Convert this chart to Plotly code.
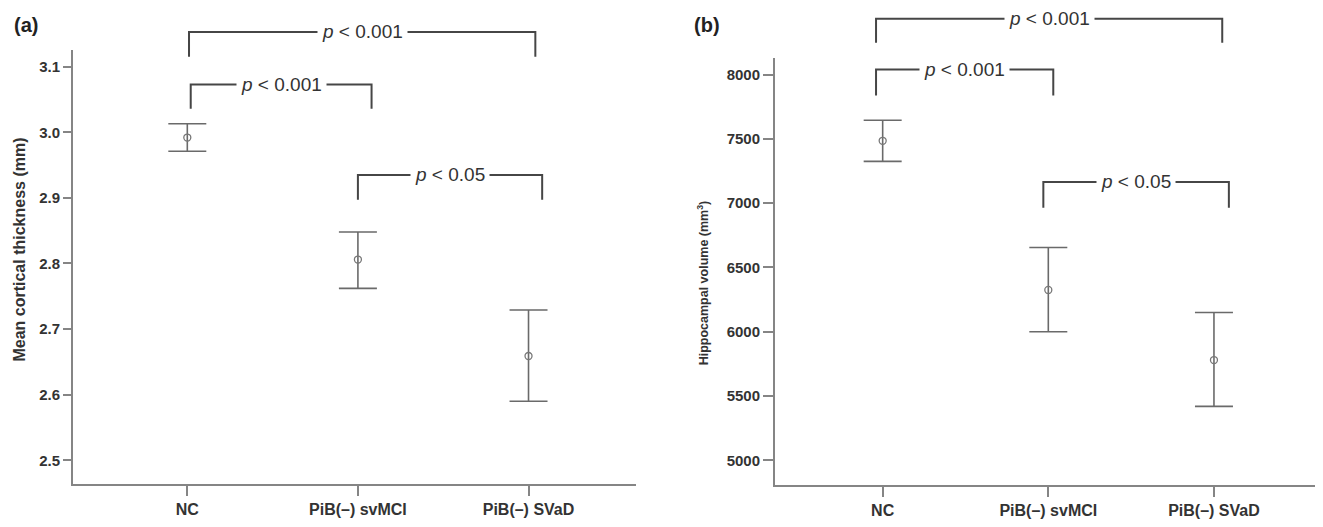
import plotly.graph_objects as go

# ---------------- data ----------------
categories = ["NC", "PiB(–) svMCI", "PiB(–) SVaD"]
cat_pos = [0, 1, 2]

thickness_mean = [2.992, 2.806, 2.659]
thickness_upper = [3.013, 2.848, 2.729]
thickness_lower = [2.971, 2.762, 2.590]
thickness_ticks = [2.5, 2.6, 2.7, 2.8, 2.9, 3.0, 3.1]

volume_mean = [7485, 6325, 5780]
volume_upper = [7645, 6655, 6150]
volume_lower = [7325, 6000, 5420]
volume_ticks = [5000, 5500, 6000, 6500, 7000, 7500, 8000]

# significance brackets: (x start, x end, bar level, leg end level, label)
thickness_brackets = [
    (0.01, 2.04, 3.153, 3.115, "0.001"),
    (0.02, 1.08, 3.073, 3.036, "0.001"),
    (1.00, 2.08, 2.935, 2.897, "0.05"),
]
volume_brackets = [
    (-0.04, 2.05, 8433, 8247, "0.001"),
    (-0.04, 1.03, 8039, 7838, "0.001"),
    (0.97, 2.09, 7165, 6964, "0.05"),
]

# ---------------- page geometry (body has an 8px margin) ----------------
OFF = 8
W, H = 1323 - 2 * OFF, 527 - 2 * OFF


def px(xp):
    return (xp - OFF) / W


def py(yp):
    return (527 - OFF - yp) / H


FONT = "Liberation Sans, Arial, Helvetica, sans-serif"
AXIS_COLOR = "#858585"
BAR_COLOR = "#6a6a6a"
BRACKET_COLOR = "#464646"
TEXT_COLOR = "#333333"

thick_range = [2.4636, 3.1258]
vol_range = [4807, 8131]

fig = go.Figure()


def add_panel(mean, upper, lower, xa, ya):
    fig.add_trace(go.Scatter(
        x=cat_pos, y=mean, mode="markers",
        xaxis=xa, yaxis=ya, showlegend=False,
        marker=dict(symbol="circle-open", size=7, color="#777777",
                    line=dict(width=1.3, color="#777777")),
        error_y=dict(type="data", symmetric=False,
                     array=[u - m for u, m in zip(upper, mean)],
                     arrayminus=[m - l for m, l in zip(mean, lower)],
                     color=BAR_COLOR, thickness=1.6, width=19),
    ))


add_panel(thickness_mean, thickness_upper, thickness_lower, "x", "y")
add_panel(volume_mean, volume_upper, volume_lower, "x2", "y2")


def add_brackets(brackets, rng, xref, ydomref):
    span = rng[1] - rng[0]
    for x0, x1, ybar, yleg, pval in brackets:
        yb = (ybar - rng[0]) / span
        yl = (yleg - rng[0]) / span
        fig.add_shape(type="path",
                      path=f"M {x0} {yl} L {x0} {yb} L {x1} {yb} L {x1} {yl}",
                      xref=xref, yref=ydomref,
                      line=dict(color=BRACKET_COLOR, width=2))
        fig.add_annotation(x=(x0 + x1) / 2, y=yb, xref=xref, yref=ydomref,
                           text=f"<i>p</i> &lt; {pval}", showarrow=False,
                           bgcolor="white", borderpad=4,
                           xanchor="center", yanchor="middle",
                           font=dict(family=FONT, size=19, color=TEXT_COLOR))


add_brackets(thickness_brackets, thick_range, "x", "y domain")
add_brackets(volume_brackets, vol_range, "x2", "y2 domain")

axis_common = dict(showline=True, linecolor=AXIS_COLOR, linewidth=2,
                   showgrid=False, zeroline=False, ticks="outside",
                   tickcolor=AXIS_COLOR, tickwidth=1.5)

fig.update_layout(
    width=W, height=H,
    margin=dict(l=0, r=0, t=0, b=0),
    paper_bgcolor="white", plot_bgcolor="white",
    font=dict(family=FONT, color=TEXT_COLOR),
    xaxis=dict(domain=[px(73), px(636)], range=[-0.67, 2.63],
               tickvals=cat_pos, ticktext=[f"<b>{c}</b>" for c in categories],
               ticklen=10, tickfont=dict(size=16, color=TEXT_COLOR),
               anchor="y", **axis_common),
    yaxis=dict(domain=[py(487), py(50)], range=thick_range,
               tickvals=thickness_ticks,
               ticktext=[f"<b>{v:.1f}</b>" for v in thickness_ticks],
               ticklen=8, tickfont=dict(size=15, color=TEXT_COLOR),
               anchor="x", **axis_common),
    xaxis2=dict(domain=[px(775), px(1315)], range=[-0.65, 2.61],
                tickvals=cat_pos, ticktext=[f"<b>{c}</b>" for c in categories],
                ticklen=10, tickfont=dict(size=16, color=TEXT_COLOR),
                anchor="y2", **axis_common),
    yaxis2=dict(domain=[py(488), py(58)], range=vol_range,
                tickvals=volume_ticks,
                ticktext=[f"<b>{v}</b>" for v in volume_ticks],
                ticklen=10, tickfont=dict(size=15, color=TEXT_COLOR),
                anchor="x2", **axis_common),
)

# axis titles and panel labels
fig.add_annotation(x=px(20), y=py(251), xref="paper", yref="paper",
                   xanchor="center", yanchor="middle",
                   text="<b>Mean cortical thickness (mm)</b>", textangle=-90,
                   showarrow=False, font=dict(family=FONT, size=16, color=TEXT_COLOR))
fig.add_annotation(x=px(703), y=py(285), xref="paper", yref="paper",
                   xanchor="center", yanchor="middle",
                   text="<b>Hippocampal volume (mm<sup>3</sup>)</b>", textangle=-90,
                   showarrow=False, font=dict(family=FONT, size=12.5, color=TEXT_COLOR))
fig.add_annotation(x=px(26), y=py(25), xref="paper", yref="paper",
                   xanchor="center", yanchor="middle",
                   text="<b>(a)</b>", showarrow=False,
                   font=dict(family=FONT, size=20, color="#222222"))
fig.add_annotation(x=px(707), y=py(25), xref="paper", yref="paper",
                   xanchor="center", yanchor="middle",
                   text="<b>(b)</b>", showarrow=False,
                   font=dict(family=FONT, size=20, color="#222222"))

fig.write_html("out.html")
